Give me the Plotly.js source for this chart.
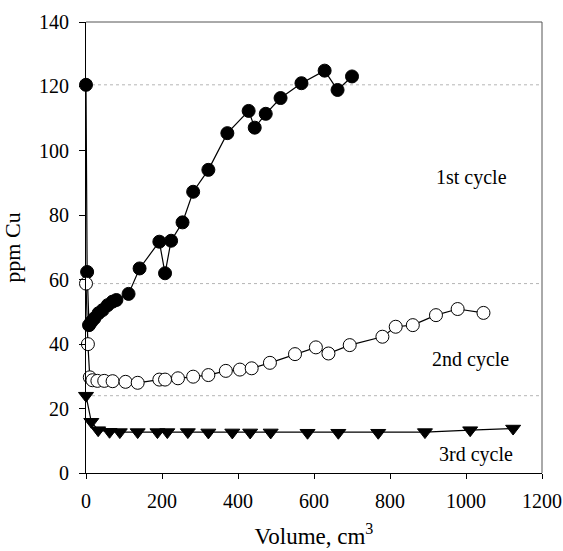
<!DOCTYPE html>
<html>
<head>
<meta charset="utf-8">
<script src="https://cdn.plot.ly/plotly-3.0.1.min.js"></script>
<style>
  html, body { margin: 0; padding: 0; background: #fff; }
  #chart { width: 563px; height: 551px; }
</style>
</head>
<body>
<div id="chart"></div>
<script>
// Copper concentration in the effluent vs. volume passed, three cycles
const vol1 = [0, 3, 8, 14, 22, 33, 44, 57, 70, 80, 112, 141, 193, 208, 224, 254, 282, 322, 372, 428, 444, 473, 512, 567, 628, 662, 700];
const cu1  = [120.5, 62.4, 45.9, 46.9, 48.0, 49.6, 50.6, 52.1, 53.2, 53.7, 55.6, 63.5, 71.8, 62.0, 72.1, 77.8, 87.3, 94.1, 105.5, 112.4, 107.2, 111.5, 116.4, 121.0, 124.9, 118.9, 123.1];

const vol2 = [0, 5, 10, 17, 30, 48, 70, 104, 136, 193, 208, 242, 282, 322, 368, 405, 436, 484, 550, 605, 638, 694, 780, 815, 860, 921, 978, 1046];
const cu2  = [58.8, 40.0, 29.7, 28.8, 28.6, 28.6, 28.5, 28.3, 28.0, 29.0, 29.0, 29.4, 29.9, 30.4, 31.7, 32.1, 32.5, 34.2, 36.9, 39.0, 37.1, 39.7, 42.3, 45.4, 45.9, 49.0, 50.9, 49.7];

const vol3 = [0, 14, 32, 62, 89, 136, 188, 214, 268, 322, 385, 432, 486, 583, 664, 769, 892, 1011, 1124];
const cu3  = [24.0, 15.9, 13.3, 12.8, 12.7, 12.7, 12.7, 12.7, 12.7, 12.6, 12.6, 12.6, 12.6, 12.5, 12.5, 12.5, 12.7, 13.3, 13.8];

const cycleLabels = ['1st cycle', '2nd cycle', '3rd cycle'];
const xTicks = [0, 200, 400, 600, 800, 1000, 1200];
const yTicks = [0, 20, 40, 60, 80, 100, 120, 140];

const serif = 'Liberation Serif, Times New Roman, serif';

function series(x, y, symbol, fill) {
  return {
    x: x, y: y, type: 'scatter', mode: 'lines+markers', cliponaxis: false,
    line: { color: '#000', width: 1.2 },
    marker: { symbol: symbol, size: 13, color: fill, line: { color: '#000', width: 1 } },
    showlegend: false, hoverinfo: 'x+y'
  };
}

const traces = [
  series(vol1, cu1, 'circle', '#000'),
  series(vol2, cu2, 'circle', '#fff'),
  series(vol3, cu3, 'triangle-down', '#000')
];

// dotted reference lines at the starting concentration of each cycle
const refLines = [cu1[0], cu2[0], cu3[0]].map(v => ({
  type: 'line', xref: 'x', yref: 'y', x0: 0, x1: 1200, y0: v, y1: v,
  line: { color: '#b5b5b5', width: 1, dash: 'dot' }, layer: 'below'
}));

// lighter top and right frame lines
const frame = [
  { type: 'line', xref: 'paper', yref: 'paper', x0: 0, x1: 1, y0: 1, y1: 1, line: { color: '#555', width: 1 } },
  { type: 'line', xref: 'paper', yref: 'paper', x0: 1, x1: 1, y0: 0, y1: 1, line: { color: '#555', width: 1 } }
];

const labelPos = [[1015, 91.8], [1012, 35.3], [1025, 5.8]];
const annotations = cycleLabels.map((t, i) => ({
  text: t, x: labelPos[i][0], y: labelPos[i][1], xref: 'x', yref: 'y',
  showarrow: false, font: { family: serif, size: 20, color: '#000' }
}));

const layout = {
  width: 563, height: 551,
  margin: { l: 86, r: 21, t: 22, b: 78 },
  paper_bgcolor: '#fff', plot_bgcolor: '#fff',
  font: { family: serif, color: '#000' },
  xaxis: {
    range: [0, 1200], tickvals: xTicks, ticktext: xTicks.map(String),
    showgrid: false, zeroline: false, showline: true, linecolor: '#000', linewidth: 1,
    ticks: 'outside', ticklen: 5, tickcolor: '#000', tickwidth: 1,
    ticklabelstandoff: 5,
    tickfont: { family: serif, size: 20, color: '#000' },
    title: { text: 'Volume, cm<sup>3</sup>', font: { family: serif, size: 23, color: '#000' }, standoff: 16 }
  },
  yaxis: {
    range: [0, 140], tickvals: yTicks, ticktext: yTicks.map(String),
    showgrid: false, zeroline: false, showline: true, linecolor: '#000', linewidth: 1,
    ticks: 'outside', ticklen: 6, tickcolor: '#000', tickwidth: 1,
    ticklabelstandoff: 6,
    tickfont: { family: serif, size: 20, color: '#000' },
    title: { text: 'ppm Cu', font: { family: serif, size: 22, color: '#000' }, standoff: 12 }
  },
  shapes: refLines.concat(frame),
  annotations: annotations
};

Plotly.newPlot('chart', traces, layout, { staticPlot: true, displayModeBar: false });
</script>
</body>
</html>
